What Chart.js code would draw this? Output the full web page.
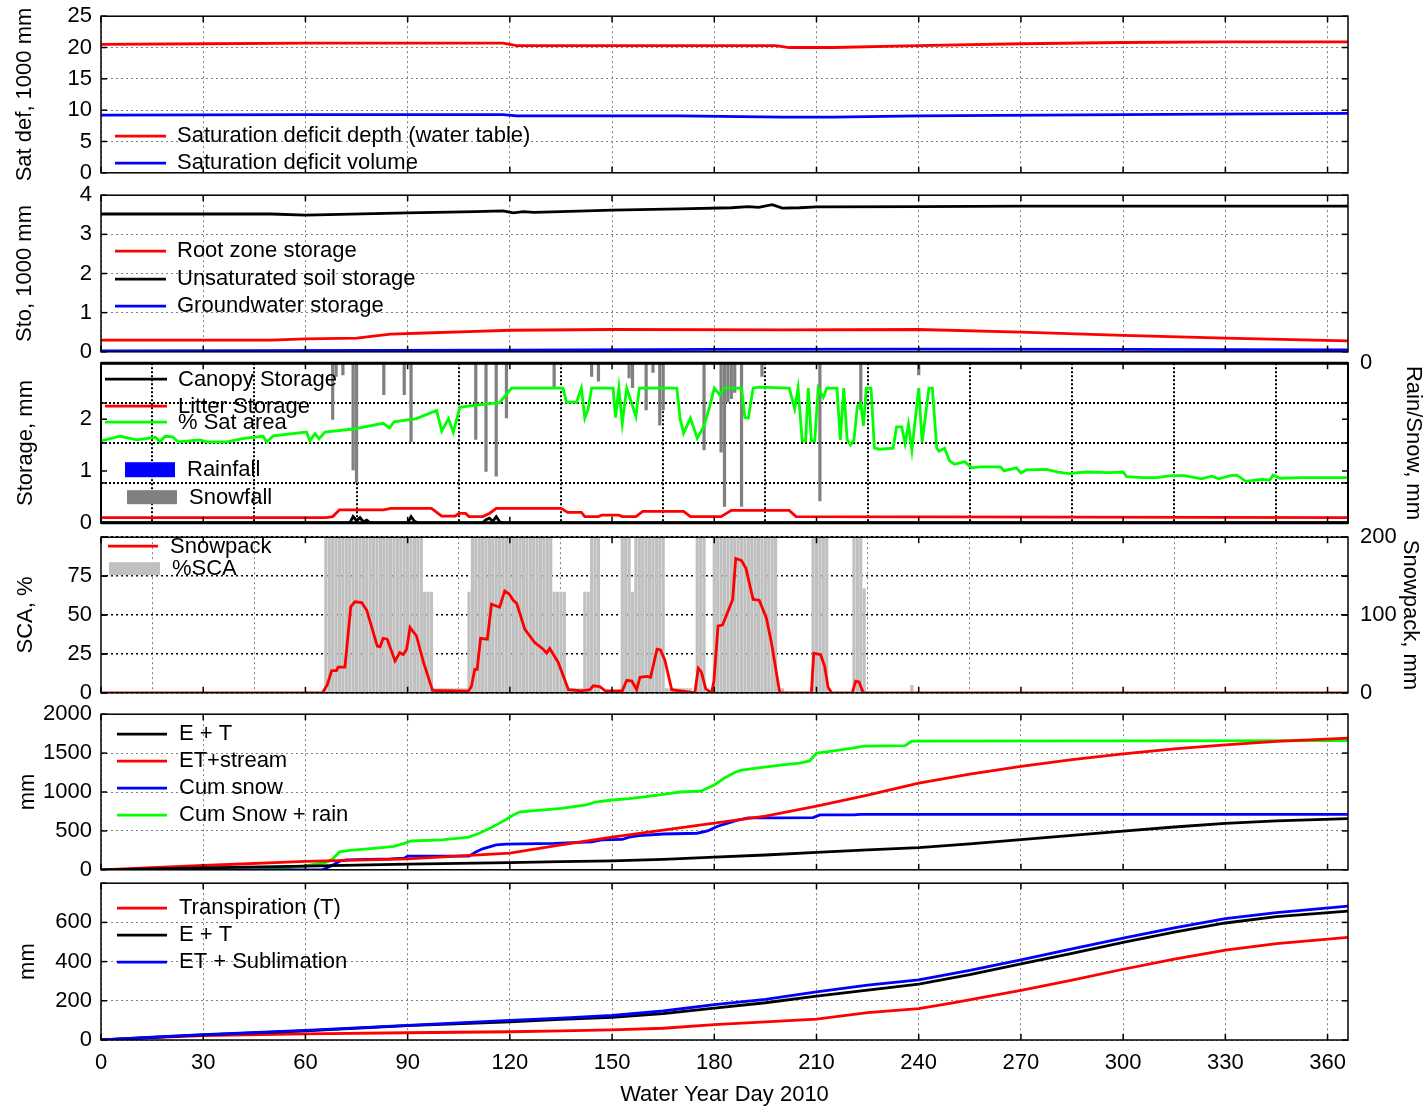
<!DOCTYPE html>
<html>
<head>
<meta charset="utf-8">
<title>Water Year Day 2010</title>
<script src="https://cdn.jsdelivr.net/npm/chart.js@4/dist/chart.umd.min.js"></script>
<style>
  html, body { margin: 0; padding: 0; background: #fff; }
  #wrap { position: relative; width: 1428px; height: 1109px; overflow: hidden; background: #fff; }
  #wrap canvas { position: absolute; left: 0; }
</style>
</head>
<body>
<div id="wrap"></div>
<script>
// ---------------- Panel 1: saturation deficit (1000 mm) ----------------
const satDepthDays = [0, 30, 60, 90, 118, 122, 150, 180, 198, 202, 215, 240, 270, 300, 330, 366];
const satDepth     = [20.5, 20.6, 20.7, 20.7, 20.7, 20.3, 20.3, 20.3, 20.3, 20.0, 20.0, 20.3, 20.6, 20.8, 20.9, 20.9];
const satVolDays   = [0, 60, 118, 122, 170, 200, 215, 240, 300, 366];
const satVol       = [9.2, 9.3, 9.3, 9.1, 9.1, 8.9, 8.9, 9.1, 9.3, 9.5];

// ---------------- Panel 2: storages (1000 mm) ----------------
const rootDays  = [0, 30, 50, 60, 75, 85, 95, 110, 120, 150, 200, 240, 270, 300, 330, 366];
const rootSto   = [0.3, 0.3, 0.3, 0.33, 0.35, 0.45, 0.48, 0.52, 0.55, 0.57, 0.56, 0.57, 0.5, 0.42, 0.35, 0.28];
const unsatDays = [0, 30, 50, 60, 70, 90, 110, 118, 121, 124, 127, 135, 150, 170, 185, 190, 193, 197, 200, 205, 210, 240, 270, 300, 366];
const unsatSto  = [3.52, 3.52, 3.52, 3.49, 3.51, 3.55, 3.58, 3.6, 3.55, 3.58, 3.56, 3.58, 3.62, 3.65, 3.68, 3.71, 3.69, 3.76, 3.67, 3.68, 3.7, 3.71, 3.72, 3.72, 3.72];
const gwDays    = [0, 120, 180, 240, 300, 366];
const gwSto     = [0.02, 0.04, 0.06, 0.07, 0.06, 0.05];

// ---------------- Panel 3: canopy / litter storage, % sat area, precipitation ----------------
const canopyDays = [0, 73, 74, 75, 76, 77, 78, 79, 90, 91, 92, 93, 112, 113, 114, 115, 116, 117, 118, 366];
const canopySto  = [0, 0, 0.12, 0.04, 0.1, 0.02, 0.05, 0, 0, 0.12, 0.03, 0, 0, 0.06, 0.09, 0.03, 0.12, 0.02, 0, 0];
const litterDays = [0, 66, 68, 70, 83, 85, 97, 100, 104, 105, 107, 108, 112, 114, 116, 135, 137, 141, 142, 146, 147, 152, 153, 157, 159, 171, 173, 182, 185, 202, 204, 366];
const litterSto  = [0.1, 0.1, 0.12, 0.25, 0.25, 0.28, 0.28, 0.13, 0.13, 0.18, 0.18, 0.12, 0.12, 0.18, 0.28, 0.28, 0.2, 0.2, 0.12, 0.12, 0.15, 0.15, 0.12, 0.12, 0.22, 0.22, 0.12, 0.12, 0.24, 0.24, 0.12, 0.1];
const satAreaDays = [
  0, 5.6, 10.5, 16, 17.3, 18.8, 21, 22.7, 29, 31,
  37, 42, 47.6, 48.6, 50.6, 60.3, 61.3, 62.8, 64, 65.7,
  74, 82.8, 84.7, 86, 92.6, 98.5, 100, 102, 103.4, 105.3,
  110, 117, 120.5, 135.6, 136.6, 139.6, 141, 142, 143, 144,
  150.3, 151, 152, 153, 154.3, 157, 158, 169, 170, 171,
  173, 175, 177, 178.6, 180, 181.6, 183, 188, 189, 190,
  191.4, 193, 202, 203.6, 204.6, 205.8, 206.8, 207.6, 208.5, 209.5, 210.5,
  212, 213, 216, 217, 218, 219, 220, 221, 222, 223,
  223.8, 224.6, 226, 227, 228.6, 232.5, 233.5, 235, 236, 237,
  238, 240, 241, 243, 244, 245.3, 246, 247.6, 249, 250.5,
  253.5, 255.5, 258, 264, 265, 268.7, 270, 271.6, 277.5, 281,
  284, 289, 296, 300, 301, 305.8, 310, 314, 318, 323,
  326, 328, 331.5, 333.4, 336, 341, 343, 344, 346, 352,
  361.6, 366];
const satArea = [
  1.58, 1.67, 1.6, 1.65, 1.56, 1.67, 1.66, 1.56, 1.6, 1.56,
  1.56, 1.63, 1.67, 1.56, 1.68, 1.75, 1.58, 1.72, 1.62, 1.75,
  1.81, 1.92, 1.83, 1.95, 2.01, 2.17, 1.77, 2.01, 1.75, 2.23,
  2.27, 2.32, 2.6, 2.6, 2.33, 2.33, 2.6, 2.02, 2.2, 2.6,
  2.6, 2.03, 2.6, 1.92, 2.6, 2.05, 2.6, 2.6, 2.0, 1.73,
  2.02, 1.63, 1.87, 2.23, 2.6, 2.47, 2.6, 2.6, 2.03, 2.02,
  2.6, 2.62, 2.6, 2.2, 2.6, 1.58, 1.58, 2.6, 1.58, 1.58, 2.6,
  2.42, 2.6, 2.6, 1.6, 2.6, 1.6, 1.5, 1.6, 2.25, 2.3,
  1.87, 2.6, 2.6, 1.44, 1.42, 1.44, 1.85, 1.85, 1.53, 1.9,
  1.4, 2.6, 1.55, 2.6, 2.6, 1.44, 1.38, 1.44, 1.2, 1.13,
  1.18, 1.06, 1.08, 1.08, 1.0, 1.06, 0.96, 1.02, 1.03, 0.98,
  0.95, 0.98, 0.97, 0.98, 0.89, 0.87, 0.87, 0.91, 0.91, 0.85,
  0.9, 0.85, 0.91, 0.92, 0.8, 0.84, 0.82, 0.92, 0.86, 0.87,
  0.87, 0.87];
const rainDays = [];
const rainMm   = [];
const snowfallDays = [68, 69, 71, 74, 75, 83, 89, 91, 110, 113, 116, 119, 133, 144, 146, 155, 156, 160, 162, 164, 165, 177, 182, 183, 184, 185, 186, 188, 194, 211, 223, 240];
const snowfallMm   = [71, 17, 15, 134, 150, 40, 40, 99, 96, 136, 142, 69, 31, 17, 23, 19, 31, 59, 12, 78, 59, 109, 112, 180, 49, 45, 37, 180, 17, 173, 59, 15];

// ---------------- Panel 4: snow covered area and snowpack ----------------
const scaDays = [
  66, 67, 68, 69, 70, 71, 72, 73, 74, 75, 76, 77, 78, 79, 80, 81, 82, 83, 84, 85, 86, 87, 88, 89, 90, 91, 92, 93, 94,
  95, 96, 97,
  98, 99, 100, 101, 102, 103, 104, 105, 106, 107,
  108,
  109, 110, 111, 112, 113, 114, 115, 116, 117, 118, 119, 120, 121, 122, 123, 124, 125, 126, 127, 128, 129, 130, 131, 132,
  133, 134, 135, 136,
  137, 138, 139, 140, 141,
  142, 143,
  144, 145, 146,
  153, 154, 155,
  156,
  157, 158, 159, 160, 161, 162, 163, 164, 165,
  166, 167, 168, 169, 170, 171, 172, 173,
  175, 176, 177,
  180, 181, 182, 183, 184, 185, 186, 187, 188, 189, 190, 191, 192, 193, 194, 195, 196, 197, 198,
  199, 200,
  209, 210, 211, 212, 213,
  221, 222, 223,
  224,
  238];
const scaPct = [
  100, 100, 100, 100, 100, 100, 100, 100, 100, 100, 100, 100, 100, 100, 100, 100, 100, 100, 100, 100, 100, 100, 100, 100, 100, 100, 100, 100, 100,
  65, 65, 65,
  3, 3, 3, 3, 3, 3, 3, 3, 3, 3,
  65,
  100, 100, 100, 100, 100, 100, 100, 100, 100, 100, 100, 100, 100, 100, 100, 100, 100, 100, 100, 100, 100, 100, 100, 100,
  65, 65, 65, 65,
  3, 3, 3, 3, 3,
  65, 65,
  100, 100, 100,
  100, 100, 100,
  65,
  100, 100, 100, 100, 100, 100, 100, 100, 100,
  3, 3, 3, 3, 3, 3, 3, 3,
  100, 100, 100,
  100, 100, 100, 100, 100, 100, 100, 100, 100, 100, 100, 100, 100, 100, 100, 100, 100, 100, 100,
  3, 3,
  100, 100, 100, 100, 100,
  100, 100, 100,
  67,
  5];
const snowpackDays = [
  0, 65, 66.4, 67.7, 69.1, 69.6, 71.6, 73.3, 74.5, 76.5,
  78, 80, 81.1, 81.9, 82.8, 84, 86.3, 87.7, 88.7, 89.7,
  90.7, 92.6, 94.6, 97.3, 107.8, 108.7, 109.7, 110.4, 111.4, 113.4,
  114.6, 117, 118.5, 119.8, 121, 122, 124.4, 127.3, 129.8, 130.8,
  131.7, 134.2, 137.2, 141, 143.5, 144.5, 146.4, 148, 153, 154.3,
  155.8, 157.2, 158.2, 160.3, 161.3, 163.2, 164.2, 165.5, 167.5, 174.3,
  175.3, 176.2, 177.5, 179.2, 179.9, 181.1, 182.4, 183.6, 185.4, 186.3,
  188, 189.3, 190.5, 191.4, 193.2, 195.3, 196.8, 199.2, 208.5, 209.2,
  211.2, 212.4, 213.4, 214.4, 220.5, 221.5, 222.5, 223.7, 366];
const snowpackMm = [
  0, 0, 10, 28.6, 28.6, 33, 33, 110.6, 117, 116,
  106, 76.5, 60, 59, 70, 69, 41, 51.7, 49, 56,
  84, 73, 40, 3, 2, 8, 30, 30, 70, 69,
  114, 110, 131, 127, 119, 115, 81.6, 64.5, 56, 51,
  57, 39, 4, 2.5, 4, 9, 8, 2.5, 2.5, 16,
  15, 4, 20, 21, 20, 56, 55, 42, 4, 0,
  31.6, 27, 5, 0, 15, 86, 87, 100, 120, 172.6,
  170, 160, 137, 120, 119, 96, 64, 0, 0, 51,
  49, 34, 7, 0, 0, 15, 14, 0, 0];

// ---------------- Panel 5: cumulative fluxes (mm) ----------------
const etDays   = [0, 15, 30, 60, 90, 120, 135, 150, 165, 180, 195, 210, 225, 240, 255, 270, 285, 300, 315, 330, 345, 366];
const etMm     = [0, 13, 26, 47, 73, 93, 105, 115, 135, 163, 190, 224, 255, 285, 333, 388, 442, 498, 550, 597, 630, 658];
const etsDays  = [0, 30, 60, 90, 120, 135, 150, 165, 180, 195, 210, 225, 240, 255, 270, 285, 300, 315, 330, 345, 366];
const etsMm    = [0, 55, 107, 141, 214, 320, 420, 510, 600, 690, 820, 960, 1115, 1230, 1330, 1415, 1490, 1555, 1606, 1650, 1692];
const cumSnowDays = [0, 65, 66, 68, 70, 72, 85, 89, 90, 108, 110, 112, 116, 119, 133, 144, 147, 153, 155, 158, 165, 175, 178, 181, 184, 187, 190, 199, 209, 211, 221, 223, 366];
const cumSnowMm   = [0, 0, 20, 60, 110, 128, 140, 150, 175, 175, 230, 270, 320, 330, 340, 360, 385, 390, 420, 440, 460, 470, 500, 560, 600, 640, 668, 668, 670, 705, 705, 713, 713];
const cumAllDays = [0, 45, 52, 60, 66, 68, 70, 73, 80, 86, 89, 91, 100, 108, 111, 114, 117, 119, 121, 123, 130, 135, 142, 145, 150, 155, 160, 165, 170, 176, 180, 183, 186, 188, 193, 200, 205, 208, 210, 213, 220, 224, 236, 238, 366];
const cumAllMm   = [0, 0, 15, 50, 95, 140, 230, 250, 275, 300, 340, 370, 385, 420, 470, 530, 600, 650, 705, 745, 770, 790, 830, 870, 897, 915, 940, 970, 1000, 1010, 1090, 1180, 1250, 1282, 1310, 1350, 1372, 1400, 1500, 1515, 1560, 1590, 1595, 1654, 1660];

// ---------------- Panel 6: evapotranspiration (mm) ----------------
const transDays = [0, 15, 30, 60, 90, 120, 135, 150, 165, 180, 195, 210, 225, 240, 250, 270, 285, 300, 315, 330, 345, 366];
const transMm   = [0, 12, 23, 31, 37, 42, 47, 52, 60, 78, 92, 107, 140, 160, 189, 253, 305, 361, 412, 459, 492, 524];
const subDays   = [0, 15, 30, 60, 90, 120, 135, 150, 165, 180, 195, 210, 225, 240, 255, 270, 285, 300, 315, 330, 345, 366];
const subMm     = [0, 14, 27, 49, 75, 100, 112, 125, 148, 180, 207, 245, 280, 307, 355, 409, 465, 520, 572, 619, 650, 683];

// ---------------- drawing ----------------
const FONT = '"Liberation Sans", Arial, Helvetica, sans-serif';
const FS = 22;
Chart.defaults.font.family = FONT;
Chart.defaults.font.size = FS;
Chart.defaults.color = '#000';

const W = 1428, PLOT_LEFT = 101, PLOT_RIGHT = 1348;
const RED = '#ff0000', BLUE = '#0000ff', GREEN = '#00ff00', BLACK = '#000000';
const LW = 2.8;
const wrap = document.getElementById('wrap');

function pts(xs, ys) { return xs.map((x, i) => ({ x: x, y: ys[i] })); }

function lineDs(label, xs, ys, color, extra) {
  return Object.assign({
    type: 'line', label: label, data: pts(xs, ys),
    borderColor: color, backgroundColor: color,
    borderWidth: LW, pointRadius: 0, tension: 0, fill: false
  }, extra || {});
}
function barDs(label, xs, ys, color, extra) {
  return Object.assign({
    type: 'bar', label: label, data: pts(xs, ys),
    backgroundColor: color, borderColor: color, borderWidth: 0,
    grouped: false, barPercentage: 0.95, categoryPercentage: 1
  }, extra || {});
}

// frame + inward tick marks
const framePlugin = {
  id: 'frame',
  afterDraw(chart, args, o) {
    const ctx = chart.ctx, a = chart.chartArea;
    const seg = (x1, y1, x2, y2) => { ctx.beginPath(); ctx.moveTo(x1, y1); ctx.lineTo(x2, y2); ctx.stroke(); };
    ctx.save();
    ctx.strokeStyle = '#000';
    ctx.lineWidth = 1.5;
    const L = 6;
    const xs = chart.scales.x;
    xs.ticks.forEach(t => {
      const p = xs.getPixelForValue(t.value);
      seg(p, a.bottom, p, a.bottom - L);
      seg(p, a.top, p, a.top + L);
    });
    ['y', 'y2'].forEach(id => {
      const s = chart.scales[id];
      if (!s) return;
      s.ticks.forEach(t => {
        const p = s.getPixelForValue(t.value);
        seg(a.left, p, a.left + L, p);
        seg(a.right, p, a.right - L, p);
      });
    });
    ctx.lineWidth = o.width || 1.5;
    ctx.strokeRect(a.left, a.top, a.right - a.left, a.bottom - a.top);
    if (o.edge) {
      ctx.lineWidth = o.edge;
      seg(a.left, a.top, a.right, a.top);
      seg(a.left, a.bottom, a.right, a.bottom);
    }
    ctx.restore();
  }
};

// in-plot key built from the dataset labels and colours (positions in page pixels)
const keyPlugin = {
  id: 'key',
  afterDatasetsDraw(chart, args, o) {
    if (!o.items) return;
    const ctx = chart.ctx;
    const off = o.plotTop - chart.chartArea.top;   // page y of the canvas top
    ctx.save();
    ctx.font = FS + 'px ' + FONT;
    ctx.textBaseline = 'middle';
    ctx.textAlign = 'left';
    o.items.forEach(it => {
      const ds = chart.data.datasets[it.ds];
      if (it.box) {
        ctx.fillStyle = ds.backgroundColor;
        ctx.fillRect(it.x0, it.y0 - off, it.x1 - it.x0, it.y1 - it.y0);
      } else {
        ctx.strokeStyle = ds.borderColor;
        ctx.lineWidth = LW;
        ctx.beginPath();
        ctx.moveTo(it.x0, it.y - off);
        ctx.lineTo(it.x1, it.y - off);
        ctx.stroke();
      }
      ctx.fillStyle = '#000';
      ctx.fillText(ds.label, it.tx, it.ty - off);
    });
    ctx.restore();
  }
};
Chart.register(framePlugin, keyPlugin);

const DOT = [2, 3];
function xScale(bottom, gridColor, gridWidth, dash) {
  return {
    type: 'linear', min: 0, max: 366, offset: false,
    ticks: { stepSize: 30, includeBounds: false, display: bottom, padding: 10, maxRotation: 0, autoSkip: false },
    grid: { color: gridColor || '#808080', lineWidth: gridWidth || 1, drawTicks: false },
    border: { display: false, dash: dash || DOT },
    title: { display: bottom, text: 'Water Year Day 2010', padding: { top: 0, bottom: 1 } },
    afterFit: s => { s.height = bottom ? 69 : 0; }
  };
}
function yScale(opts) {
  const hide = opts.hide || [];
  const show = opts.show;
  const left = opts.position !== 'right';
  return {
    type: 'linear', position: left ? 'left' : 'right',
    min: opts.min, max: opts.max, reverse: !!opts.reverse,
    ticks: {
      stepSize: opts.step, includeBounds: false, padding: left ? 9 : 12,
      callback: v => (show ? (show.indexOf(v) >= 0 ? String(v) : '') : (hide.indexOf(v) >= 0 ? '' : String(v)))
    },
    afterBuildTicks: opts.keep ? (s => { s.ticks = s.ticks.filter(t => t.value <= opts.keep); }) : undefined,
    grid: { display: opts.grid !== false, drawOnChartArea: opts.grid !== false, color: opts.gridColor || '#808080', lineWidth: opts.gridWidth || 1, drawTicks: false },
    border: { display: false, dash: opts.dash || DOT },
    title: { display: true, text: opts.title, padding: { top: opts.titlePad, bottom: 0 } },
    afterFit: s => { s.width = left ? PLOT_LEFT : (W - PLOT_RIGHT); }
  };
}

// Builds one panel so that its plot area spans page rows plotTop..plotBottom.
function makePanel(p) {
  const build = (h) => {
    const c = document.createElement('canvas');
    c.width = W; c.height = h;
    c.style.width = W + 'px'; c.style.height = h + 'px';
    wrap.appendChild(c);
    const chart = new Chart(c, {
      type: 'line',
      data: { datasets: p.datasets() },
      options: {
        responsive: false, maintainAspectRatio: false, animation: false, devicePixelRatio: 1, events: [],
        layout: { padding: { top: 0, bottom: 0, left: 0, right: p.hasRight ? 0 : W - PLOT_RIGHT } },
        plugins: {
          legend: { display: false }, tooltip: { enabled: false },
          key: { plotTop: p.plotTop, items: p.key },
          frame: p.frame || {}
        },
        scales: p.scales()
      }
    });
    return { c, chart };
  };
  const probe = build(300);
  const ca = probe.chart.chartArea;
  const overhead = 300 - (ca.bottom - ca.top);
  probe.chart.destroy();
  probe.c.remove();
  const h = Math.round(p.plotBottom - p.plotTop + overhead);
  const final = build(h);
  final.c.style.top = (p.plotTop - final.chart.chartArea.top) + 'px';
  final.chart.draw();
  return final.chart;
}

// Panel 1
makePanel({
  plotTop: 16, plotBottom: 173, hasRight: false,
  datasets: () => [
    lineDs('Saturation deficit depth (water table)', satDepthDays, satDepth, RED),
    lineDs('Saturation deficit volume', satVolDays, satVol, BLUE)
  ],
  scales: () => ({
    x: xScale(false),
    y: yScale({ min: 0, max: 25, step: 5, title: 'Sat def, 1000 mm', titlePad: 12 })
  }),
  key: [
    { ds: 0, x0: 115, x1: 166, y: 136, tx: 177, ty: 136 },
    { ds: 1, x0: 115, x1: 166, y: 163, tx: 177, ty: 163 }
  ]
});

// Panel 2
makePanel({
  plotTop: 195, plotBottom: 352, hasRight: false,
  datasets: () => [
    lineDs('Root zone storage', rootDays, rootSto, RED),
    lineDs('Unsaturated soil storage', unsatDays, unsatSto, BLACK),
    lineDs('Groundwater storage', gwDays, gwSto, BLUE)
  ],
  scales: () => ({
    x: xScale(false),
    y: yScale({ min: 0, max: 4, step: 1, title: 'Sto, 1000 mm', titlePad: 12 })
  }),
  key: [
    { ds: 0, x0: 115, x1: 166, y: 251, tx: 177, ty: 251 },
    { ds: 1, x0: 115, x1: 166, y: 279, tx: 177, ty: 279 },
    { ds: 2, x0: 115, x1: 166, y: 306, tx: 177, ty: 306 }
  ]
});

// Panel 3
makePanel({
  plotTop: 363, plotBottom: 523, hasRight: true,
  datasets: () => [
    lineDs('Canopy Storage', canopyDays, canopySto, BLACK, { yAxisID: 'y' }),
    lineDs('Litter Storage', litterDays, litterSto, RED, { yAxisID: 'y' }),
    lineDs('% Sat area', satAreaDays, satArea, GREEN, { yAxisID: 'y' }),
    barDs('Rainfall', rainDays, rainMm, BLUE, { yAxisID: 'y2' }),
    barDs('Snowfall', snowfallDays, snowfallMm, '#808080', { yAxisID: 'y2' })
  ],
  scales: () => ({
    x: xScale(false, '#000000', 2, [2, 2]),
    y: yScale({ min: 0, max: 3.08, step: 1, keep: 2, title: 'Storage, mm', titlePad: 13, grid: false }),
    y2: yScale({ position: 'right', min: 0, max: 200, step: 50, reverse: true, show: [0], title: 'Rain/Snow, mm', titlePad: 2, gridColor: '#000000', gridWidth: 2, dash: [2, 2] })
  }),
  frame: { width: 2, edge: 3 },
  key: [
    { ds: 0, x0: 105, x1: 167, y: 379, tx: 178, ty: 380 },
    { ds: 1, x0: 105, x1: 167, y: 406, tx: 178, ty: 407 },
    { ds: 2, x0: 105, x1: 167, y: 422, tx: 178, ty: 423 },
    { ds: 3, box: true, x0: 125, x1: 175, y0: 462, y1: 477, tx: 187, ty: 470 },
    { ds: 4, box: true, x0: 127, x1: 177, y0: 490, y1: 504, tx: 189, ty: 498 }
  ]
});

// Panel 4
makePanel({
  plotTop: 537, plotBottom: 693, hasRight: true,
  datasets: () => [
    lineDs('Snowpack', snowpackDays, snowpackMm, RED, { yAxisID: 'y2' }),
    barDs('%SCA', scaDays, scaPct, '#c0c0c0', { yAxisID: 'y', barPercentage: 0.93 })
  ],
  scales: () => ({
    x: xScale(false),
    y: yScale({ min: 0, max: 100, step: 25, hide: [100], title: 'SCA, %', titlePad: 13, gridColor: '#000000', gridWidth: 1.5 }),
    y2: yScale({ position: 'right', min: 0, max: 200, step: 50, show: [0, 100, 200], title: 'Snowpack, mm', titlePad: 5, grid: false })
  }),
  key: [
    { ds: 0, x0: 108, x1: 158, y: 546, tx: 170, ty: 547 },
    { ds: 1, box: true, x0: 109, x1: 160, y0: 562, y1: 575, tx: 172, ty: 569 }
  ]
});

// Panel 5
makePanel({
  plotTop: 714, plotBottom: 870, hasRight: false,
  datasets: () => [
    lineDs('E + T', etDays, etMm, BLACK),
    lineDs('ET+stream', etsDays, etsMm, RED),
    lineDs('Cum snow', cumSnowDays, cumSnowMm, BLUE),
    lineDs('Cum Snow + rain', cumAllDays, cumAllMm, GREEN)
  ],
  scales: () => ({
    x: xScale(false),
    y: yScale({ min: 0, max: 2000, step: 500, title: 'mm', titlePad: 15 })
  }),
  key: [
    { ds: 0, x0: 117, x1: 167, y: 734, tx: 179, ty: 734 },
    { ds: 1, x0: 117, x1: 167, y: 761, tx: 179, ty: 761 },
    { ds: 2, x0: 117, x1: 167, y: 788, tx: 179, ty: 788 },
    { ds: 3, x0: 117, x1: 167, y: 815, tx: 179, ty: 815 }
  ]
});

// Panel 6
makePanel({
  plotTop: 883, plotBottom: 1040, hasRight: false,
  datasets: () => [
    lineDs('Transpiration (T)', transDays, transMm, RED, { order: 2 }),
    lineDs('E + T', etDays, etMm, BLACK, { order: 1 }),
    lineDs('ET + Sublimation', subDays, subMm, BLUE, { order: 0 })
  ],
  scales: () => ({
    x: xScale(true),
    y: yScale({ min: 0, max: 800, step: 200, hide: [800], title: 'mm', titlePad: 15 })
  }),
  key: [
    { ds: 0, x0: 117, x1: 167, y: 908, tx: 179, ty: 908 },
    { ds: 1, x0: 117, x1: 167, y: 935, tx: 179, ty: 935 },
    { ds: 2, x0: 117, x1: 167, y: 962, tx: 179, ty: 962 }
  ]
});
</script>
</body>
</html>
